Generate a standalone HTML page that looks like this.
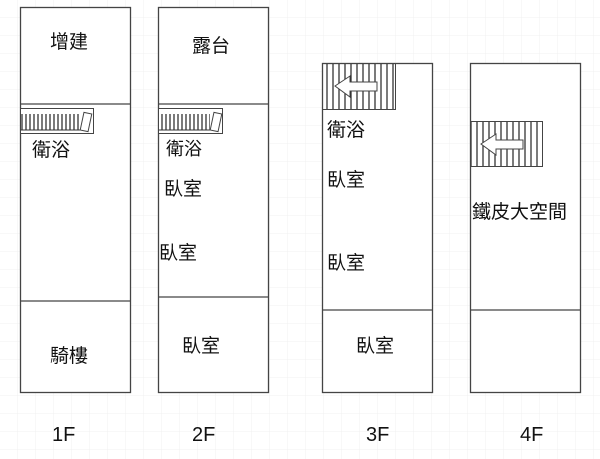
<!DOCTYPE html>
<html><head><meta charset="utf-8"><style>
html,body{margin:0;padding:0;background:#fff}
svg{display:block}
text{font-family:"Liberation Sans","Noto Sans CJK TC",sans-serif;fill:#111}
</style></head><body>
<svg width="600" height="459" viewBox="0 0 600 459" xmlns="http://www.w3.org/2000/svg">
<defs>
<pattern id="g" width="18" height="18" patternUnits="userSpaceOnUse"><path d="M18 0V18H0" fill="none" stroke="#f0f0f0" stroke-width="1"/></pattern>
<pattern id="st" width="4" height="10" patternUnits="userSpaceOnUse"><line x1="2" y1="0" x2="2" y2="10" stroke="#222" stroke-width="1.2"/></pattern>
<pattern id="st2" width="6" height="10" patternUnits="userSpaceOnUse"><line x1="3" y1="0" x2="3" y2="10" stroke="#222" stroke-width="1.2"/></pattern>
</defs>
<rect width="600" height="459" fill="url(#g)"/>
<g fill="none" stroke="#444" stroke-width="1.3">
<rect x="20.5" y="7.5" width="110" height="385" fill="#fff"/>
<line x1="20" y1="104" x2="130" y2="104"/>
<line x1="20" y1="301" x2="130" y2="301"/>
<rect x="158.5" y="7.5" width="110" height="385" fill="#fff"/>
<line x1="158" y1="104" x2="268" y2="104"/>
<line x1="158" y1="297" x2="268" y2="297"/>
<rect x="322.5" y="63.5" width="110" height="329" fill="#fff"/>
<line x1="322" y1="310" x2="432" y2="310"/>
<rect x="470.5" y="63.5" width="110" height="329" fill="#fff"/>
<line x1="470" y1="310" x2="580" y2="310"/>
</g>
<rect x="20.5" y="108.5" width="73" height="25" fill="#fff" stroke="#444"/>
<rect x="21" y="114" width="59" height="16" fill="url(#st)"/>
<line x1="21" y1="130" x2="80" y2="130" stroke="#333"/>
<rect x="82" y="113" width="8" height="18" fill="#fff" stroke="#444" transform="rotate(12 86 122)"/>
<rect x="158.5" y="108.5" width="64" height="25" fill="#fff" stroke="#444"/>
<rect x="159" y="114" width="51" height="16" fill="url(#st)"/>
<line x1="159" y1="130" x2="210" y2="130" stroke="#333"/>
<rect x="212" y="113" width="8" height="18" fill="#fff" stroke="#444" transform="rotate(12 216 122)"/>
<rect x="322.5" y="63.5" width="73" height="46" fill="url(#st2)" stroke="#444"/>
<polygon points="335,86 350,76 350,82 377,82 377,91 350,91 350,97" fill="#fff" stroke="#444"/>
<rect x="470.5" y="121.5" width="72" height="45" fill="url(#st2)" stroke="#444"/>
<polygon points="481,144 496,134 496,140 523,140 523,149 496,149 496,155" fill="#fff" stroke="#444"/>
<g font-size="19">
<text x="50" y="48">增建</text>
<text x="32" y="156">衛浴</text>
<text x="50" y="362">騎樓</text>
<text x="192" y="52">露台</text>
<text x="166" y="155" font-size="18">衛浴</text>
<text x="164" y="195">臥室</text>
<text x="159" y="259">臥室</text>
<text x="182" y="352">臥室</text>
<text x="327" y="136">衛浴</text>
<text x="327" y="186">臥室</text>
<text x="327" y="269">臥室</text>
<text x="356" y="352">臥室</text>
<text x="472" y="218">鐵皮大空間</text>
</g>
<g font-size="20">
<text x="52" y="441">1F</text>
<text x="192" y="441">2F</text>
<text x="366" y="441">3F</text>
<text x="520" y="441">4F</text>
</g>
</svg>
</body></html>
